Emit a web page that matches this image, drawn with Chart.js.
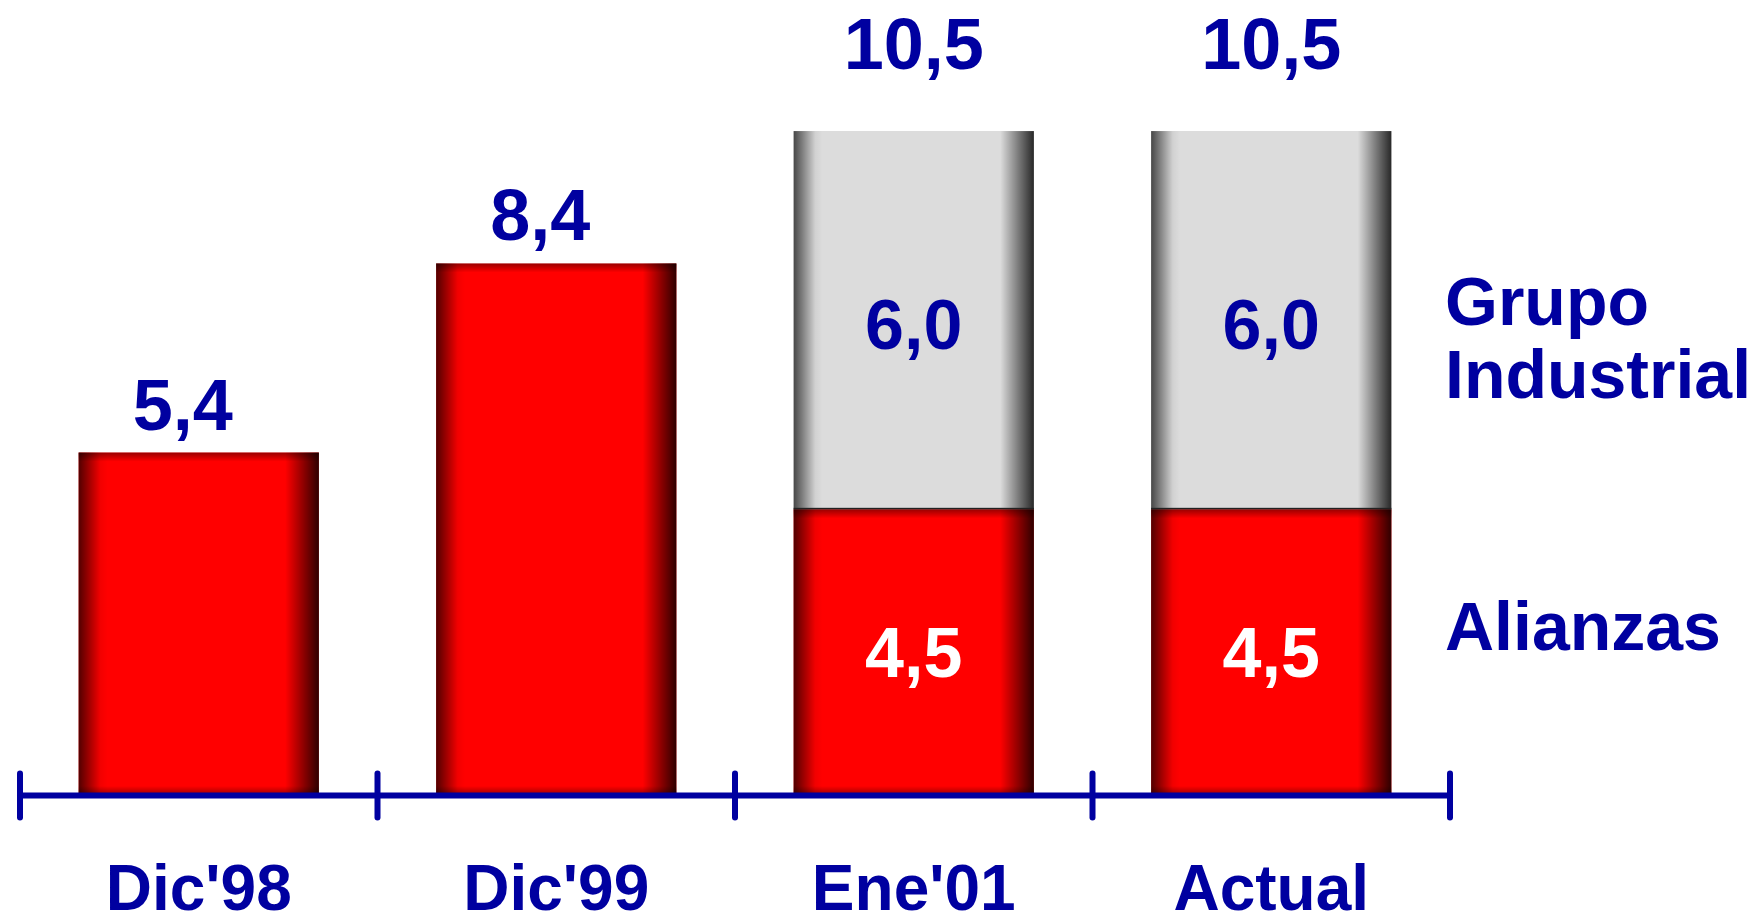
<!DOCTYPE html>
<html>
<head>
<meta charset="utf-8">
<script src="https://cdn.jsdelivr.net/npm/chart.js@4.4.1/dist/chart.umd.min.js"></script>
<style>
  body { margin: 0; background: #fff; }
  #wrap { width: 1758px; height: 915px; }
</style>
</head>
<body>
<div id="wrap"><canvas id="myChart"></canvas></div>
<script>
const categories = ["Dic'98", "Dic'99", "Ene'01", "Actual"];
const alianzas = [5.4, 8.4, 4.5, 4.5];
const grupoIndustrial = [null, null, 6.0, 6.0];
const seriesNames = ["Alianzas", "Grupo Industrial"];

const BLUE = "#0000A0";
const FONT = "'Liberation Sans', Arial, sans-serif";

function fmt(v) {
  return v.toFixed(1).replace(".", ",");
}

// dark edges on the bars, like the old 3d look
const shading = {
  id: "shading",
  afterDatasetsDraw(chart) {
    const ctx = chart.ctx;
    chart.data.datasets.forEach((ds, di) => {
      const meta = chart.getDatasetMeta(di);
      meta.data.forEach((bar, i) => {
        if (ds.data[i] == null) return;
        const left = bar.x - bar.width / 2;
        const right = bar.x + bar.width / 2;
        const top = Math.min(bar.y, bar.base);
        const bottom = Math.max(bar.y, bar.base);
        const g = ctx.createLinearGradient(left, 0, right, 0);
        g.addColorStop(0, "rgba(0,0,0,0.68)");
        g.addColorStop(0.09, "rgba(0,0,0,0.05)");
        g.addColorStop(0.12, "rgba(0,0,0,0)");
        g.addColorStop(0.86, "rgba(0,0,0,0)");
        g.addColorStop(1, "rgba(0,0,0,0.82)");
        ctx.save();
        ctx.fillStyle = g;
        ctx.fillRect(left, top, right - left, bottom - top);
        if (di === 0) {
          const v = ctx.createLinearGradient(0, top, 0, top + 9);
          v.addColorStop(0, "rgba(0,0,0,0.4)");
          v.addColorStop(1, "rgba(0,0,0,0)");
          ctx.fillStyle = v;
          ctx.fillRect(left, top, right - left, 9);
          const b = ctx.createLinearGradient(0, bottom - 7, 0, bottom);
          b.addColorStop(0, "rgba(0,0,0,0)");
          b.addColorStop(1, "rgba(0,0,0,0.3)");
          ctx.fillStyle = b;
          ctx.fillRect(left, bottom - 7, right - left, 7);
        } else {
          ctx.fillStyle = "#222";
          ctx.fillRect(left, bottom - 1.5, right - left, 1.5);
        }
        ctx.restore();
      });
    });
  }
};

// axis line with ticks crossing it, value labels, series names
const decorations = {
  id: "decorations",
  afterDraw(chart) {
    const ctx = chart.ctx;
    const x = chart.scales.x;
    const area = chart.chartArea;
    const axisY = area.bottom + 2.5;

    ctx.save();
    ctx.strokeStyle = BLUE;
    ctx.lineWidth = 6;
    ctx.lineCap = "round";
    ctx.beginPath();
    ctx.moveTo(x.left, axisY);
    ctx.lineTo(x.right, axisY);
    ctx.stroke();
    const step = (x.right - x.left) / categories.length;
    for (let i = 0; i <= categories.length; i++) {
      const bx = x.left + i * step;
      ctx.beginPath();
      ctx.moveTo(bx, axisY - 22);
      ctx.lineTo(bx, axisY + 22);
      ctx.stroke();
    }

    ctx.textAlign = "center";
    ctx.textBaseline = "alphabetic";
    const red = chart.getDatasetMeta(0).data;
    const grey = chart.getDatasetMeta(1).data;
    categories.forEach((c, i) => {
      const a = alianzas[i];
      const g = grupoIndustrial[i];
      if (g == null) {
        ctx.fillStyle = BLUE;
        ctx.font = "bold 72px " + FONT;
        ctx.fillText(fmt(a), red[i].x - 16, red[i].y - 23);
      } else {
        ctx.fillStyle = BLUE;
        ctx.font = "bold 72px " + FONT;
        ctx.fillText(fmt(a + g), grey[i].x, grey[i].y - 62);
        ctx.font = "bold 70px " + FONT;
        ctx.fillText(fmt(g), grey[i].x, (grey[i].y + grey[i].base) / 2 + 29);
        ctx.fillStyle = "#ffffff";
        ctx.fillText(fmt(a), red[i].x, (red[i].y + red[i].base) / 2 + 26);
      }
    });

    ctx.fillStyle = BLUE;
    ctx.textAlign = "left";
    ctx.font = "bold 68px " + FONT;
    const lx = x.right - 5;
    const words = seriesNames[1].split(" ");
    ctx.fillText(words[0], lx, 325);
    ctx.fillText(words[1], lx, 398);
    ctx.fillText(seriesNames[0], lx, 650);
    ctx.restore();
  }
};

new Chart(document.getElementById("myChart"), {
  type: "bar",
  data: {
    labels: categories,
    datasets: [
      {
        label: seriesNames[0],
        data: alianzas,
        backgroundColor: "#ff0000",
        borderWidth: 0,
        categoryPercentage: 1,
        barPercentage: 0.672
      },
      {
        label: seriesNames[1],
        data: grupoIndustrial,
        backgroundColor: "#dcdcdc",
        borderWidth: 0,
        categoryPercentage: 1,
        barPercentage: 0.672
      }
    ]
  },
  options: {
    responsive: true,
    maintainAspectRatio: false,
    animation: false,
    layout: { padding: { left: 20, right: 308, top: 5, bottom: 0 } },
    plugins: {
      legend: { display: false },
      tooltip: { enabled: false }
    },
    scales: {
      x: {
        stacked: true,
        grid: { display: false, drawTicks: false },
        border: { display: false },
        afterFit(scale) { scale.height = 122; },
        ticks: {
          color: BLUE,
          padding: 61,
          font: { family: FONT, size: 64, weight: "bold" }
        }
      },
      y: {
        stacked: true,
        display: false,
        min: 0,
        max: 12.5
      }
    }
  },
  plugins: [shading, decorations]
});
</script>
</body>
</html>
